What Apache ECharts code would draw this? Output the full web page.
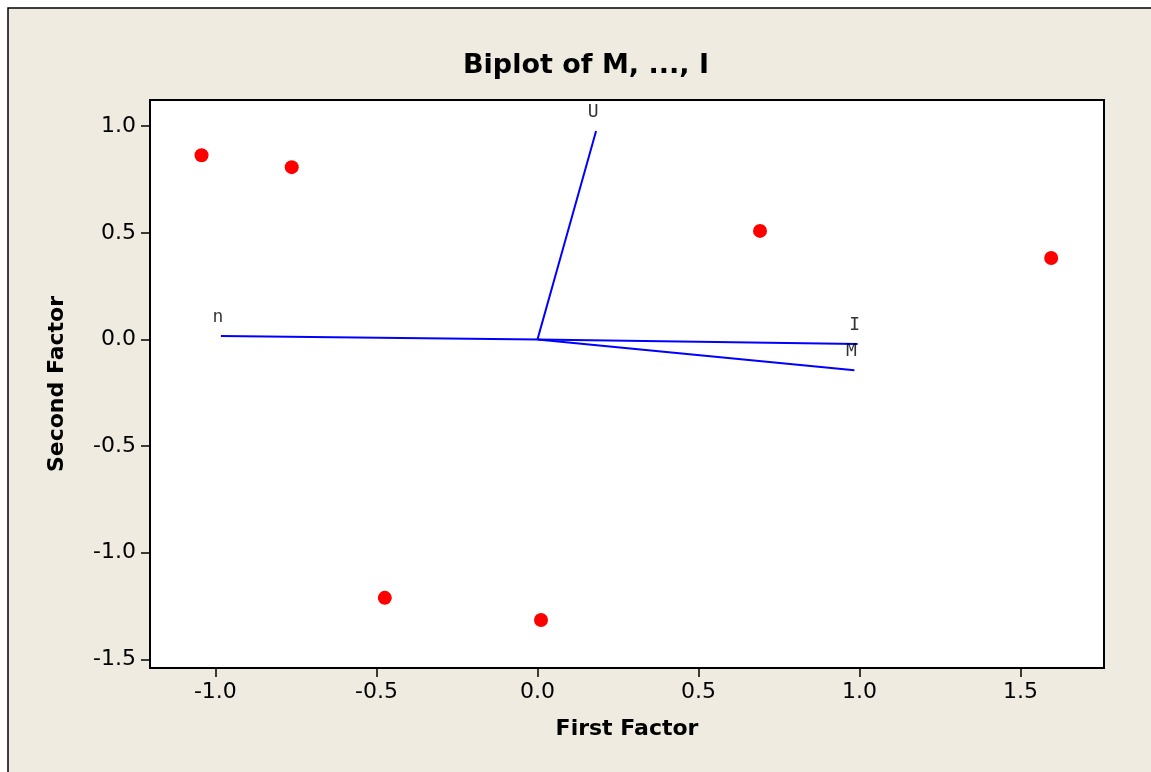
<!DOCTYPE html>
<html>
<head>
<meta charset="utf-8">
<script src="https://cdn.jsdelivr.net/npm/echarts@6/dist/echarts.min.js"></script>
<style>html,body{margin:0;padding:0;background:#fff}#c{width:1151px;height:772px}</style>
</head>
<body>
<div id="c"></div>
<script>
// Scores (red points)
const scoreX = [-1.043, -0.763, 0.691, 1.595, -0.474, 0.011];
const scoreY = [0.864, 0.808, 0.509, 0.382, -1.212, -1.316];
// Loadings (blue vectors from origin)
const loadNames = ['U', 'n', 'I', 'M'];
const loadX = [0.182, -0.983, 0.994, 0.984];
const loadY = [0.978, 0.016, -0.021, -0.144];
// Tick values
const xTicks = [-1.0, -0.5, 0.0, 0.5, 1.0, 1.5];
const yTicks = [-1.5, -1.0, -0.5, 0.0, 0.5, 1.0];

const chart = echarts.init(document.getElementById('c'));
const FONT = 'DejaVu Sans';

const lineSeries = loadNames.map((nm, i) => ({
  type: 'line',
  data: [[0, 0], [loadX[i], loadY[i]]],
  symbol: 'none',
  lineStyle: { color: '#0000FF', width: 2 },
  silent: true,
  z: 2
}));

chart.setOption({
  backgroundColor: '#ffffff',
  animation: false,
  graphic: [{
    type: 'rect',
    z: -100,
    shape: { x: 8, y: 8, width: 1200, height: 900 },
    style: { fill: '#EFEBE1', stroke: '#000', lineWidth: 1.5 }
  }],
  title: {
    text: 'Biplot of M, ..., I',
    left: 581,
    top: 47,
    textAlign: 'center',
    textStyle: { fontFamily: FONT, fontWeight: 'bold', fontSize: 27, color: '#000' }
  },
  grid: {
    left: 150, top: 100, right: 47, bottom: 104,
    show: true, backgroundColor: '#fff', borderColor: '#000', borderWidth: 2
  },
  xAxis: {
    type: 'value',
    min: -1.203, max: 1.759,
    name: 'First Factor',
    nameLocation: 'middle',
    nameGap: 50,
    nameTextStyle: { fontFamily: FONT, fontWeight: 'bold', fontSize: 22, color: '#000' },
    axisLine: { onZero: false, lineStyle: { color: '#000', width: 2 } },
    axisTick: { show: true, inside: false, length: 9, lineStyle: { color: '#000', width: 1.5 }, customValues: xTicks },
    axisLabel: { fontFamily: FONT, fontSize: 22, color: '#000', margin: 13, customValues: xTicks,
      formatter: v => v.toFixed(1) },
    splitLine: { show: false }
  },
  yAxis: {
    type: 'value',
    min: -1.541, max: 1.123,
    name: 'Second Factor',
    nameLocation: 'middle',
    nameGap: 82,
    nameTextStyle: { fontFamily: FONT, fontWeight: 'bold', fontSize: 22, color: '#000' },
    axisLine: { onZero: false, lineStyle: { color: '#000', width: 2 } },
    axisTick: { show: true, inside: false, length: 9, lineStyle: { color: '#000', width: 1.5 }, customValues: yTicks },
    axisLabel: { fontFamily: FONT, fontSize: 22, color: '#000', margin: 14, customValues: yTicks,
      formatter: v => v.toFixed(1) },
    splitLine: { show: false }
  },
  series: [
    ...lineSeries,
    {
      type: 'scatter',
      data: loadNames.map((nm, i) => [loadX[i], loadY[i], nm]),
      symbolSize: 0,
      silent: true,
      label: {
        show: true, position: 'top', distance: 10, offset: [-3, 0],
        formatter: p => p.data[2],
        fontFamily: 'DejaVu Sans Mono', fontSize: 18, color: '#000'
      },
      z: 3
    },
    {
      type: 'scatter',
      data: scoreX.map((x, i) => [x, scoreY[i]]),
      symbol: 'circle',
      symbolSize: 14,
      itemStyle: { color: '#FF0000', opacity: 1 },
      z: 4
    }
  ]
});
</script>
</body>
</html>
